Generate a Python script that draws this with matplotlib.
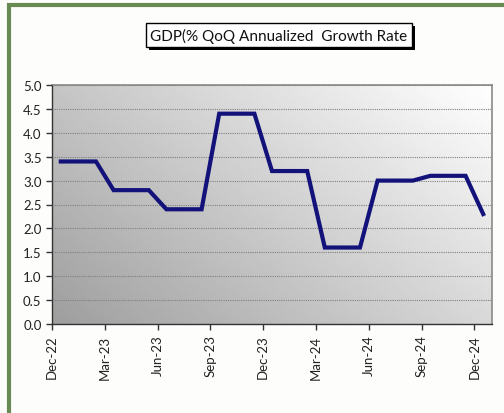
import numpy as np
import matplotlib
matplotlib.use("Agg")
from matplotlib import pyplot as plt
from matplotlib.patches import Rectangle

plt.rcParams['font.family'] = ['Lato', 'DejaVu Sans']

# monthly values, Dec-22 .. Dec-24 (quarterly figure held for 3 months)
gdp = [3.4, 3.4, 3.4,
       2.8, 2.8, 2.8,
       2.4, 2.4, 2.4,
       4.4, 4.4, 4.4,
       3.2, 3.2, 3.2,
       1.6, 1.6, 1.6,
       3.0, 3.0, 3.0,
       3.1, 3.1, 3.1,
       2.3]
tick_labels = ['Dec-22', 'Mar-23', 'Jun-23', 'Sep-23', 'Dec-23',
               'Mar-24', 'Jun-24', 'Sep-24', 'Dec-24']
title = 'GDP(% QoQ Annualized  Growth Rate'

W, H = 504, 414
fig = plt.figure(figsize=(W / 100, H / 100), dpi=100)
fig.patch.set_facecolor('#fdfdfb')

ax = fig.add_axes([52 / W, (H - 325) / H, 440 / W, 239 / H])

n = len(gdp)
x = np.arange(n) + 0.5

# gradient background, dark bottom-left to light top-right
gx, gy = np.meshgrid(np.linspace(0, 1, 200), np.linspace(0, 1, 200))
g = (gx * 0.6 + gy * 0.4)
g = 0.62 + 0.38 * g
ax.imshow(g, extent=[0, n, 0, 5], origin='lower', aspect='auto',
          cmap='gray', vmin=0, vmax=1, zorder=0)

ax.plot(x, gdp, color='#12127a', lw=3, solid_joinstyle='miter', zorder=3)

ax.set_xlim(0, n)
ax.set_ylim(0, 5)
ax.set_yticks(np.arange(0, 5.01, 0.5))
ax.set_yticklabels(['%.1f' % v for v in np.arange(0, 5.01, 0.5)])
ax.set_xticks(np.arange(0, n, 3))
ax.set_xticklabels(tick_labels, rotation=90)
ax.tick_params(axis='both', direction='out', length=4, width=1,
               labelsize=9.5, colors='#333333', labelcolor='#222222')
ax.yaxis.grid(True, color='#808080', linestyle=(0, (1, 1)), lw=0.8, zorder=1)
ax.set_axisbelow(False)
for s in ['left', 'bottom']:
    ax.spines[s].set_color('#333333')
    ax.spines[s].set_linewidth(1)
for s in ['top', 'right']:
    ax.spines[s].set_color('#8a8a8a')
    ax.spines[s].set_linewidth(1.2)

# green frame around chart
fig.patches.append(Rectangle((9 / W, -0.1), 1.2, 1 - 6 / H + 0.1,
                             transform=fig.transFigure, fill=False,
                             edgecolor='#6a8a54', lw=3, clip_on=False))

# title box with drop shadow
t = fig.text(279 / W, 1 - 36 / H, title, ha='center', va='center',
             fontsize=11, color='#111111', zorder=5,
             bbox=dict(boxstyle='square,pad=0.3', fc='white', ec='black', lw=1))
fig.canvas.draw()
bb = t.get_bbox_patch().get_window_extent()
fig.patches.append(Rectangle((bb.x0 + 3, bb.y0 - 3), bb.width, bb.height,
                             transform=None, fc='black', ec='none', zorder=4))

fig.savefig('out.png', dpi=100, facecolor=fig.get_facecolor())
